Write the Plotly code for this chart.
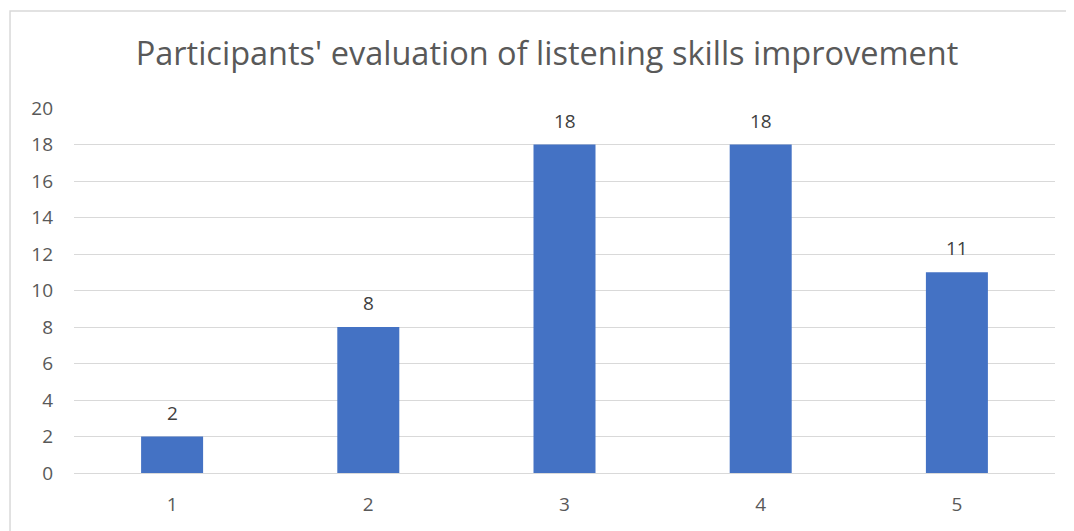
import plotly.graph_objects as go

categories = ["1", "2", "3", "4", "5"]
values = [2, 8, 18, 18, 11]
y_ticks = [0, 2, 4, 6, 8, 10, 12, 14, 16, 18, 20]

fig = go.Figure(
    go.Bar(
        x=categories,
        y=values,
        marker={"color": "#4472c4", "line": {"width": 0}},
        width=0.316,
        showlegend=False,
        hoverinfo="x+y",
    )
)
# value labels above the bars, Excel-style spacing
# (category axis: place by index so "1".."5" are not read as positions)
for i, val in enumerate(values):
    fig.add_annotation(
        x=i,
        y=val,
        text=str(val),
        showarrow=False,
        yanchor="middle",
        yshift=24,
        font={"color": "#404040", "size": 19},
    )

fig.update_layout(
    width=1058,
    height=523,
    font_family="Open Sans",
    paper_bgcolor="white",
    plot_bgcolor="white",
    margin={"l": 66, "r": 11, "t": 100, "b": 58},
    title={
        "text": "Participants' evaluation of listening skills improvement",
        "font": {"size": 32.5, "color": "#595959"},
        "x": 0.5095,
        "xanchor": "center",
        "y": 1 - 46 / 523,
        "yanchor": "middle",
    },
    shapes=[
        {
            "type": "rect",
            "xref": "paper",
            "yref": "paper",
            "x0": -0.0652,
            "x1": 1.05,
            "y0": -0.3,
            "y1": 1.2658,
            "line": {"color": "#d9d9d9", "width": 1.5},
            "layer": "below",
        }
    ],
)
fig.update_xaxes(
    range=[-0.5, 4.5],
    showgrid=False,
    showline=False,
    ticks="",
    ticklabelstandoff=18,
    automargin=False,
    tickfont={"size": 19, "color": "#595959"},
    fixedrange=True,
)
fig.update_yaxes(
    range=[0, 20],
    tickvals=y_ticks,
    showgrid=True,
    gridcolor="#d9d9d9",
    gridwidth=1,
    zeroline=True,
    zerolinecolor="#d9d9d9",
    zerolinewidth=1,
    showline=False,
    ticks="",
    ticklabelstandoff=20,
    automargin=False,
    tickfont={"size": 19, "color": "#595959"},
    fixedrange=True,
)
fig.write_html("out.html")
